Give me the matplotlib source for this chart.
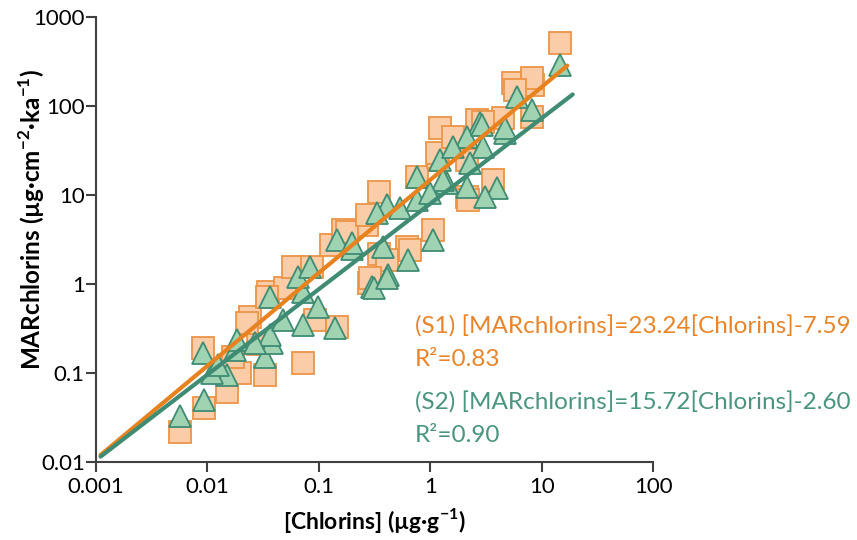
import numpy as np
from matplotlib import pyplot as plt

plt.rcParams['font.family'] = ['Lato', 'DejaVu Sans']
plt.rcParams['mathtext.fontset'] = 'custom'
plt.rcParams['mathtext.rm'] = 'Lato'
plt.rcParams['mathtext.bf'] = 'Lato:bold'

#S1 (squares)
s1_chlorins = [0.0057, 0.0093, 0.0091, 0.015, 0.0196, 0.033, 0.024, 0.072, 0.035, 0.050,
               0.059, 0.087, 0.092, 0.146, 0.13, 0.165, 0.27, 0.28, 0.18, 0.27,
               0.35, 0.76, 1.17, 2.14, 0.62, 0.35, 0.41, 0.29, 1.06, 1.22,
               2.63, 4.5, 8.2, 3.66, 2.18, 2.14, 1.15, 5.5, 8.4, 14.6,
               8.2, 5.8, 3.0, 0.66, 0.017, 0.0285, 0.0227, 0.034, 1.6]
s1_mar = [0.022, 0.040, 0.19, 0.061, 0.10, 0.095, 0.43, 0.13, 0.81, 0.90,
          1.55, 1.55, 0.39, 0.33, 2.74, 4.0, 4.6, 1.03, 3.8, 6.0,
          10.8, 15.9, 26.7, 9.5, 2.6, 2.2, 1.86, 1.17, 4.0, 57,
          70, 73, 75, 14.8, 8.8, 24.7, 29.6, 181, 172, 511,
          206, 151, 66, 2.4, 0.15, 0.21, 0.365, 0.71, 45]

#S2 (triangles)
s2_chlorins = [0.0057, 0.0093, 0.0091, 0.015, 0.011, 0.0177, 0.033, 0.038, 0.0184, 0.0365,
               0.048, 0.072, 0.14, 0.098, 0.0365, 0.072, 0.065, 0.083, 0.146, 0.20,
               0.30, 0.38, 0.41, 0.33, 0.535, 0.76, 0.76, 1.22, 1.42, 1.06,
               0.63, 0.42, 0.31, 2.14, 6.0, 8.2, 2.8, 4.7, 2.14, 1.6,
               3.0, 2.28, 1.3, 4.0, 3.1, 1.0, 14.6, 4.7, 2.9, 0.20,
               0.41, 0.0124, 0.027]
s2_mar = [0.033, 0.050, 0.168, 0.095, 0.10, 0.18, 0.15, 0.22, 0.235, 0.27,
          0.39, 0.35, 0.32, 0.55, 0.71, 0.81, 1.2, 1.55, 3.1, 2.5,
          0.93, 2.6, 7.7, 6.3, 7.1, 8.8, 15.9, 24.7, 13.6, 3.1,
          1.86, 1.26, 0.90, 12.3, 126, 90, 64, 50, 45, 35,
          35, 23, 14.8, 12, 9.5, 10.5, 289, 57, 61, 2.9,
          1.17, 0.123, 0.22]

#fit lines (end points)
s1_fit_x = [0.0011, 17]
s1_fit_y = [0.012, 285]
s2_fit_x = [0.0011, 19]
s2_fit_y = [0.0115, 135]

xticks = [0.001, 0.01, 0.1, 1, 10, 100]
xticklabels = ['0.001', '0.01', '0.1', '1', '10', '100']
yticks = [0.01, 0.1, 1, 10, 100, 1000]
yticklabels = ['0.01', '0.1', '1', '10', '100', '1000']

eq_s1 = '(S1) [MARchlorins]=23.24[Chlorins]-7.59'
r2_s1 = 'R²=0.83'
eq_s2 = '(S2) [MARchlorins]=15.72[Chlorins]-2.60'
r2_s2 = 'R²=0.90'

orange = '#E8852A'
teal = '#3F8B73'

fig = plt.figure(figsize=(8.57, 5.4), dpi=100)
ax = fig.add_axes([0.112, 0.1444, 0.650, 0.824])

ax.plot(s1_chlorins, s1_mar, 's', markersize=16, markerfacecolor='#FBCCA8',
        markeredgecolor='#EC9447', markeredgewidth=1.3, zorder=2)
ax.plot(s2_chlorins, s2_mar, '^', markersize=16, markerfacecolor='#9FD3B1',
        markeredgecolor='#3F8B73', markeredgewidth=1.3, zorder=3)
ax.plot(s1_fit_x, s1_fit_y, color='#E8821E', linewidth=3, solid_capstyle='round', zorder=4)
ax.plot(s2_fit_x, s2_fit_y, color=teal, linewidth=3, solid_capstyle='round', zorder=4)

ax.set_xscale('log')
ax.set_yscale('log')
ax.set_xlim(0.001, 100)
ax.set_ylim(0.01, 1000)
ax.set_xticks(xticks, xticklabels)
ax.set_yticks(yticks, yticklabels)
ax.minorticks_off()
ax.tick_params(direction='out', length=7, width=1.5, color='#404040', labelsize=16)
ax.tick_params(axis='x', pad=4)
ax.tick_params(axis='y', pad=1)
for s in ['top', 'right']:
    ax.spines[s].set_visible(False)
for s in ['left', 'bottom']:
    ax.spines[s].set_linewidth(1.5)
    ax.spines[s].set_color('#404040')

ax.set_xlabel(r'[Chlorins] (µg·g$^{\mathbf{-1}}$)', fontsize=16.5, fontweight='bold', labelpad=6)
ax.set_ylabel(r'MARchlorins (µg·cm$^{\mathbf{-2}}$·ka$^{\mathbf{-1}}$)', fontsize=17.5, fontweight='bold')
ax.yaxis.set_label_coords(-0.088, 0.546)

ax.text(0.573, 0.304, eq_s1, transform=ax.transAxes, color=orange, fontsize=17.5, va='center')
ax.text(0.573, 0.23, r2_s1, transform=ax.transAxes, color=orange, fontsize=17.5, va='center')
ax.text(0.573, 0.134, eq_s2, transform=ax.transAxes, color='#4A9580', fontsize=17.5, va='center')
ax.text(0.573, 0.059, r2_s2, transform=ax.transAxes, color='#4A9580', fontsize=17.5, va='center')

fig.savefig('out.png', dpi=100)
